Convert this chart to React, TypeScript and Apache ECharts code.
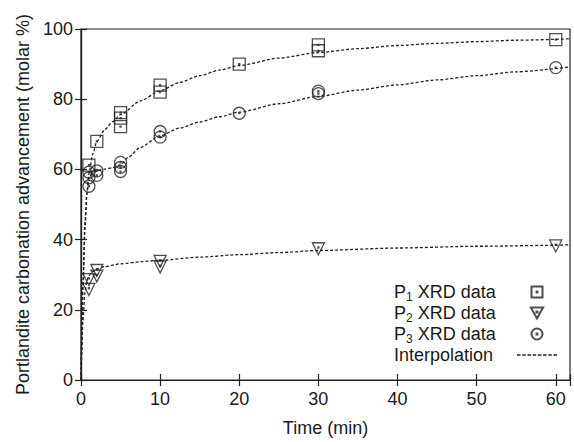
import React, { useEffect, useRef } from "react";
import * as echarts from "echarts";

// ---- data ----
const p1Points: [number, number][] = [
  [1, 61.2], [2, 68], [5, 76.2], [5, 74.6], [5, 72.2], [10, 84], [10, 82],
  [20, 90], [30, 95.5], [30, 93.8], [60, 97],
];
const p2Points: [number, number][] = [
  [1, 28.6], [1, 25.8], [2, 31.2], [2, 29.6], [10, 33.8], [10, 32.2],
  [30, 37.4], [60, 38.2],
];
const p3Points: [number, number][] = [
  [1, 59.2], [1, 57.6], [1, 55.2], [2, 59.6], [2, 58.3], [5, 62], [5, 60.6],
  [5, 59.4], [10, 70.8], [10, 69.2], [20, 76], [30, 82.3], [30, 81.6], [60, 89],
];
// interpolation curves
const p1Curve: [number, number][] = [
  [0, 0], [0.25, 26], [0.5, 43], [0.75, 53], [1, 58.8], [1.5, 64.5], [2, 68],
  [3, 71.3], [4, 73.6], [5, 75.6], [7.5, 79.5], [10, 82.4], [12.5, 84.8],
  [15, 86.7], [17.5, 88.3], [20, 89.6], [25, 91.7], [30, 93.3], [35, 94.4],
  [40, 95.3], [45, 95.9], [50, 96.4], [55, 96.8], [61.8, 97.2],
];
const p2Curve: [number, number][] = [
  [0, 0], [0.25, 17], [0.5, 25], [0.75, 28.3], [1, 29.8], [1.5, 30.9],
  [2, 31.6], [3, 32.3], [5, 33.1], [7.5, 33.7], [10, 34.1], [15, 35],
  [20, 35.7], [25, 36.3], [30, 36.9], [40, 37.6], [50, 38.1], [61.8, 38.5],
];
const p3Curve: [number, number][] = [
  [0, 0], [0.25, 28], [0.5, 45], [0.75, 53.5], [1, 57.6], [1.5, 59], [2, 59.6],
  [3, 60.1], [4, 60.5], [5, 61.3], [6, 63.5], [7.5, 66.3], [10, 69.6],
  [12.5, 71.8], [15, 73.5], [17.5, 75], [20, 76.3], [25, 78.7], [30, 80.8],
  [35, 82.6], [40, 84.1], [45, 85.5], [50, 86.7], [55, 87.8], [61.8, 89.2],
];
const seriesNames = ["P1 XRD data", "P2 XRD data", "P3 XRD data", "Interpolation"];
const xTicks = [0, 10, 20, 30, 40, 50, 60];
const yTicks = [0, 20, 40, 60, 80, 100];

const SQUARE = "path://M0 0 L10 0 L10 10 L0 10 Z M4.6 4.6 L5.4 4.6 L5.4 5.4 L4.6 5.4 Z";
const TRIANGLE = "path://M0 0 L10 0 L5 9 Z M4.6 3.2 L5.4 3.2 L5.4 4 L4.6 4 Z";
const CIRCLE =
  "path://M0 5 A5 5 0 1 0 10 5 A5 5 0 1 0 0 5 Z M4.6 4.6 L5.4 4.6 L5.4 5.4 L4.6 5.4 Z";

// dashed legend icon: 8 short dashes
function dashIcon(): string {
  let d = "";
  for (let i = 0; i < 8; i++) {
    const x0 = i * 5;
    d += `M${x0} 0 L${x0 + 3.4} 0 L${x0 + 3.4} 1.3 L${x0} 1.3 Z `;
  }
  return "path://" + d.trim();
}

const FONT = "Liberation Sans";
const INK = "#1a1a1a";

export default function App() {
  const ref = useRef<HTMLDivElement>(null);
  useEffect(() => {
    if (!ref.current) return;
    const chart = echarts.init(ref.current, undefined, { renderer: "svg" });
    const xMax = 61.8;
    const axisCommon = {
      axisLine: { show: true, lineStyle: { color: "#222", width: 1.2 } },
      axisTick: { show: true, inside: true, length: 6, lineStyle: { color: "#222", width: 1.2 } },
      splitLine: { show: false },
    };
    const scatter = (name: string, data: [number, number][], symbol: string) => ({
      type: "scatter",
      name,
      data,
      symbol,
      symbolSize: 12,
      itemStyle: { color: "transparent", borderColor: "#222", borderWidth: 1.3 },
      z: 3,
    });
    const curve = (data: [number, number][]) => ({
      type: "line",
      name: "Interpolation",
      data,
      smooth: 0.25,
      smoothMonotone: "x",
      symbol: "none",
      showSymbol: false,
      itemStyle: { color: "#222" },
      lineStyle: { color: "#222", width: 1.3, type: [3, 2] },
      z: 2,
    });
    chart.setOption({
      animation: false,
      backgroundColor: "#fff",
      textStyle: { fontFamily: FONT, color: INK },
      grid: {
        left: 81, right: 4, top: 29, bottom: 59,
        show: true, borderColor: "#222", borderWidth: 1.2,
      },
      xAxis: [
        {
          type: "value", min: 0, max: xMax, interval: 10, position: "bottom",
          ...axisCommon,
          axisLabel: {
            fontSize: 18, color: INK, fontFamily: FONT, margin: 10,
            formatter: (v: number) => (xTicks.includes(v) ? String(v) : ""),
          },
          name: "Time (min)", nameLocation: "middle", nameGap: 39,
          nameTextStyle: { fontSize: 18, color: INK, fontFamily: FONT },
        },
        {
          type: "value", min: 0, max: xMax, interval: 10, position: "top",
          ...axisCommon, axisLabel: { show: false },
        },
      ],
      yAxis: [
        {
          type: "value", min: 0, max: 100, interval: 20, position: "left",
          ...axisCommon,
          axisLabel: {
            fontSize: 18, color: INK, fontFamily: FONT, margin: 8,
            formatter: (v: number) => (yTicks.includes(v) ? String(v) : ""),
          },
          name: "Portlandite carbonation advancement (molar %)",
          nameLocation: "middle", nameGap: 43,
          nameTextStyle: { fontSize: 18, color: INK, fontFamily: FONT },
        },
        {
          type: "value", min: 0, max: 100, interval: 20, position: "right",
          ...axisCommon, axisLabel: { show: false },
        },
      ],
      legend: {
        orient: "vertical",
        left: 389,
        top: 278,
        align: "right",
        itemWidth: 40,
        itemHeight: 11,
        itemGap: 1.5,
        data: [
          seriesNames[0],
          seriesNames[1],
          seriesNames[2],
          { name: seriesNames[3], icon: dashIcon(), itemStyle: { color: "#222", borderWidth: 0 } },
        ],
        formatter: (name: string) => {
          const m = name.match(/^P(\d) (.*)$/);
          if (m) return `{a|P}{s|${m[1]}}{a| ${m[2]}}`;
          return `{a|${name}}`;
        },
        textStyle: {
          width: 118,
          color: INK,
          fontFamily: FONT,
          rich: {
            a: { fontSize: 18, lineHeight: 21, fontFamily: FONT, color: INK, align: "left" },
            s: { fontSize: 12, lineHeight: 10, verticalAlign: "bottom", fontFamily: FONT, color: INK, align: "left" },
          },
        },
      },
      series: [
        scatter(seriesNames[0], p1Points, SQUARE),
        scatter(seriesNames[1], p2Points, TRIANGLE),
        scatter(seriesNames[2], p3Points, CIRCLE),
        curve(p1Curve),
        curve(p2Curve),
        curve(p3Curve),
      ],
    });
    return () => chart.dispose();
  }, []);
  return (
    <div
      ref={ref}
      style={{ position: "fixed", left: 0, top: 0, width: 574, height: 442 }}
    />
  );
}
